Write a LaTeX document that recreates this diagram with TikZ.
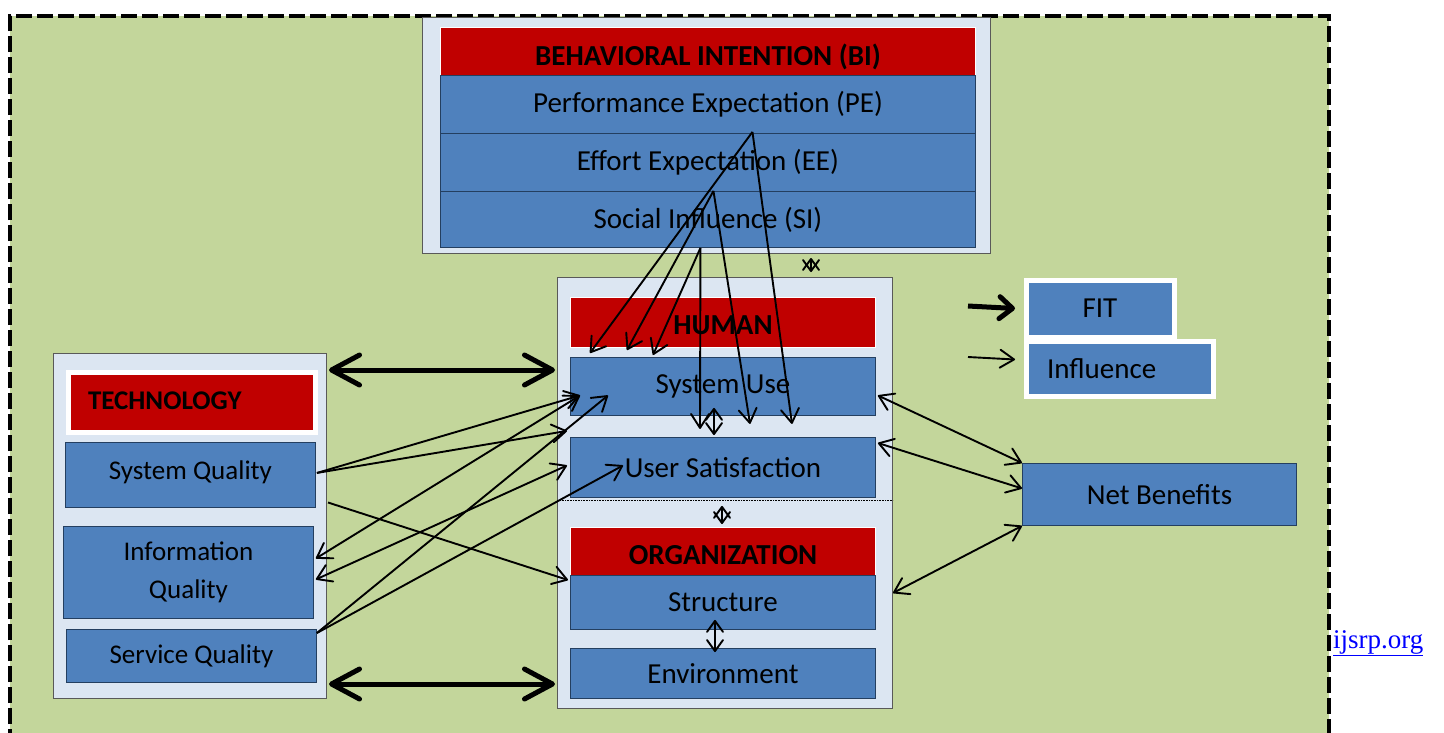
\documentclass[tikz,border=0pt]{standalone}
\usepackage{fontspec}
\setmainfont{Carlito}
\newfontfamily\linkfont{Liberation Serif}
\usetikzlibrary{arrows.meta,calc}
\definecolor{bgreen}{HTML}{C3D69B}
\definecolor{bblue}{HTML}{4F81BD}
\definecolor{bred}{HTML}{C00000}
\definecolor{blight}{HTML}{DCE6F2}
\definecolor{bnavy}{HTML}{243F60}
\newcommand{\shiftdown}[2]{\raisebox{-#1}[\height][\depth]{#2}}
\begin{document}
\begin{tikzpicture}[x=1pt,y=-1pt,
  outerbox/.style={draw=black!65, fill=blight, line width=1pt, inner sep=0pt, anchor=north west},
  bluebox/.style={draw=bnavy, fill=bblue, line width=0.9pt, inner sep=0pt, anchor=north west, font=\fontsize{29}{33}\selectfont},
  techbox/.style={bluebox, font=\fontsize{27}{38}\selectfont, align=center},
  redbox/.style={draw=white, fill=bred, line width=1pt, inner sep=0pt, anchor=north west, font=\fontsize{29}{33}\selectfont\bfseries},
  legbox/.style={draw=white, fill=bblue, line width=5pt, inner sep=0pt, anchor=north west, font=\fontsize{29}{33}\selectfont},
  thinarr/.style={line width=1.9pt, -{Straight Barb[length=14pt,width=18pt,round]}},
  dblarr/.style={line width=1.9pt, {Straight Barb[length=14pt,width=18pt,round]}-{Straight Barb[length=14pt,width=18pt,round]}},
  tinyarr/.style={line width=1.9pt, {Straight Barb[length=11pt,width=16pt,round]}-{Straight Barb[length=11pt,width=16pt,round]}},
  thickarr/.style={line width=5pt, {Straight Barb[length=28pt,width=30pt,round]}-{Straight Barb[length=28pt,width=30pt,round]}},
  legthick/.style={line width=5pt, -{Straight Barb[length=13pt,width=22pt,round]}},
]
\useasboundingbox (0,0) rectangle (1444,732);
\fill[white] (0,0) rectangle (1444,732);
\clip (0,0) rectangle (1444,732);
% background frame
\fill[bgreen] (10,16) rectangle (1329,745);
\draw[line width=4pt, dash pattern=on 16pt off 5pt] (10,745) -- (10,16) -- (1329,16) -- (1329,745);

% Behavioral intention
\node[outerbox, minimum width=568, minimum height=236] (bi) at (422,17) {};
\node[redbox, minimum width=535, minimum height=48] (bih) at (440,27) {\shiftdown{5pt}{BEHAVIORAL INTENTION (BI)}};
\node[bluebox, minimum width=535, minimum height=58] (pe) at (440,75) {Performance Expectation (PE)};
\node[bluebox, minimum width=535, minimum height=58] (ee) at (440,133) {Effort Expectation (EE)};
\node[bluebox, minimum width=535, minimum height=56] (si) at (440,191) {Social Influence (SI)};

% Human / organization
\node[outerbox, minimum width=335, minimum height=431] (ho) at (557,277) {};
\draw[densely dotted, line width=0.6pt] ([yshift=-223]ho.north west) -- ([yshift=-223]ho.north east);
\node[redbox, minimum width=305, minimum height=50] (hh) at (570,297) {\shiftdown{3pt}{HUMAN}};
\node[bluebox, minimum width=305, minimum height=58] (su) at (570,357) {System Use};
\node[bluebox, minimum width=305, minimum height=60] (us) at (570,437) {User Satisfaction};
\node[redbox, minimum width=305, minimum height=48] (oh) at (570,527) {\shiftdown{4pt}{ORGANIZATION}};
\node[bluebox, minimum width=305, minimum height=54] (st) at (570,575) {Structure};
\node[bluebox, minimum width=305, minimum height=50] (en) at (570,648) {Environment};

% Technology
\node[outerbox, minimum width=273, minimum height=345] (tech) at (53,353) {};
\node[redbox, draw=white, line width=5pt, minimum height=60, text width=207pt, inner xsep=20pt, align=left, font=\fontsize{27}{30}\selectfont\bfseries] (th) at (65.5,369.5) {\shiftdown{-1pt}{TECHNOLOGY}};
\node[techbox, minimum width=250, minimum height=65] (sq) at (65,442) {\shiftdown{-3pt}{System Quality}};
\node[techbox, minimum width=250, minimum height=92] (iq) at (63,526) {Information\\Quality};
\node[techbox, minimum width=250, minimum height=53] (svq) at (66,629) {Service Quality};

% Legend and net benefits
\node[legbox, minimum width=148, minimum height=57] (fit) at (1023.5,277.5) {FIT};
\node[legbox, text width=145pt, inner xsep=21pt, minimum height=55, align=left] (infl) at (1023.5,338.5) {Influence};
\node[bluebox, minimum width=274, minimum height=62] (nb) at (1022,463) {Net Benefits};
\coordinate (lg1) at (968,306);
\coordinate (lg2) at (968,357);
\draw[legthick] (lg1) -- ([xshift=-8.5]fit.west);
\draw[thinarr] (lg2) -- ([xshift=-8.5,yshift=9]infl.west);

% link
\node[anchor=base west, text=blue, inner sep=0pt, font=\linkfont\fontsize{27}{30}\selectfont] (link) at (1333,648) {\underline{ijsrp.org}};

% BI arrows
\draw[thinarr] ([xshift=44.5,yshift=2]pe.south) -- ([xshift=20,yshift=4]su.north west);
\draw[thinarr] ([xshift=44.5,yshift=2]pe.south) -- ([xshift=222,yshift=-8]su.south west);
\draw[thinarr] ([xshift=5.5,yshift=1]ee.south) -- ([xshift=57,yshift=7]su.north west);
\draw[thinarr] ([xshift=5.5,yshift=1]ee.south) -- ([xshift=180,yshift=-8]su.south west);
\draw[thinarr] ([xshift=-7.5]si.south) -- ([xshift=83,yshift=2]su.north west);
\draw[thinarr] ([xshift=-7.5]si.south) -- ([xshift=130,yshift=-13]su.south west);

% small double arrows
\draw[tinyarr] ([xshift=-180,yshift=-4]bi.south east) -- ([xshift=-82,yshift=5]ho.north east);
\draw[tinyarr] ([xshift=144,yshift=8]su.south west) -- ([xshift=144,yshift=2]us.north west);
\draw[tinyarr] ([xshift=152,yshift=-8]us.south west) -- ([xshift=152,yshift=3]oh.north west);
\draw[tinyarr] ([xshift=145,yshift=10]st.south west) -- ([xshift=145,yshift=-4]en.north west);

% right arrows
\draw[dblarr] ([xshift=2,yshift=-9]su.east) -- (nb.north west);
\draw[dblarr] ([xshift=2,yshift=-6]us.north east) -- ([yshift=6]nb.west);
\draw[dblarr] ([yshift=-100]ho.east) -- (nb.south west);

% left arrows
\draw[thinarr] ([xshift=1,yshift=2]sq.east) -- ([xshift=10,yshift=-9]su.west);
\draw[thinarr] ([xshift=1,yshift=2]sq.east) -- ([xshift=-3,yshift=-15]su.south west);
\draw[thinarr] ([xshift=1,yshift=23.5]tech.east) -- ([xshift=-2,yshift=-5]st.north west);
\draw[dblarr] ([xshift=2,yshift=14]iq.east) -- ([xshift=10,yshift=-9]su.west);
\draw[dblarr] ([xshift=2,yshift=-7]iq.east) -- ([xshift=-3,yshift=2]us.west);
\draw[thinarr] ([yshift=-4]svq.north east) -- ([xshift=38,yshift=-9]su.west);
\draw[thinarr] ([yshift=-4]svq.north east) -- ([xshift=53,yshift=2]us.west);

% thick arrows
\draw[thickarr] ([xshift=2,yshift=-17]tech.north east) -- ([xshift=-2,yshift=-93]ho.north west);
\draw[thickarr] ([xshift=2,yshift=15]tech.south east) -- ([xshift=-2,yshift=25]ho.south west);
\end{tikzpicture}
\end{document}
